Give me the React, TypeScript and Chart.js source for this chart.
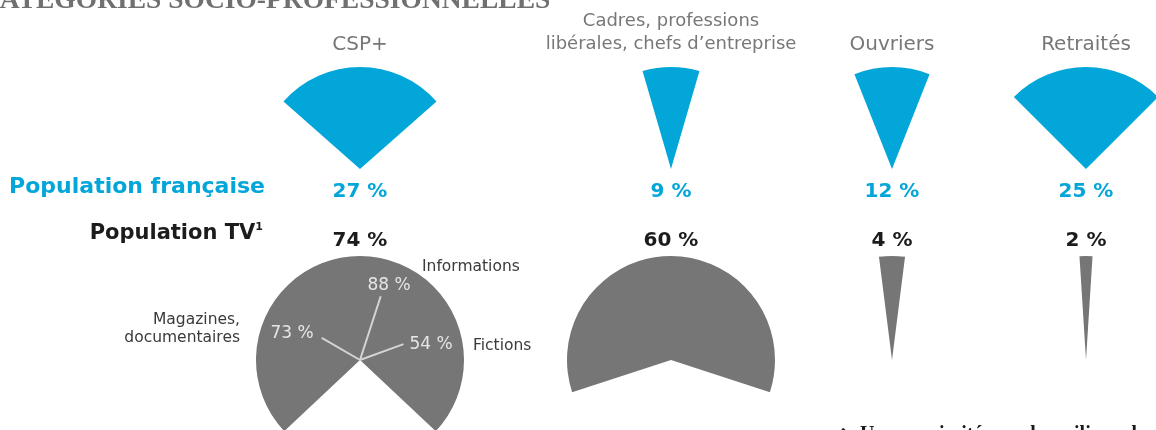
import React, { useEffect, useRef } from "react";
import { Chart, registerables } from "chart.js";

Chart.register(...registerables);

// ---- data ----
const categories = ["CSP+", "Cadres, professions|libérales, chefs d’entreprise", "Ouvriers", "Retraités"];
const populationFrancaise = [27, 9, 12, 25];
const populationTV = [74, 60, 4, 2];
const genreLabels = ["Informations", "Magazines,|documentaires", "Fictions"];
const genreValues = [88, 73, 54];
const rowLabels = ["Population française", "Population TV"];
const title = "CATÉGORIES SOCIO-PROFESSIONNELLES";
const footnote = "Une proximité avec les milieux d";

// ---- layout ----
const W = 1156;
const H = 430;
const colX = [360, 671, 892, 1086];
const blueCY = 169;
const blueR = 102;
const grayCY = 360;
const grayR = 104;
const BLUE = "#03a6d9";
const GRAY = "#767676";
const SANS = "'DejaVu Sans', sans-serif";

// leader lines inside the CSP+ TV wedge: angle (deg clockwise from up), length (fraction of radius)
const leaderAngles = [18, -60, 70];
const leaderLengths = [0.645, 0.425, 0.445];

const leaderPlugin = {
  id: "leaders",
  afterDatasetsDraw(chart: any) {
    const arc = chart.getDatasetMeta(0).data[0];
    if (!arc) return;
    const { x, y, outerRadius } = arc.getProps(["x", "y", "outerRadius"], true);
    const ctx = chart.ctx;
    ctx.save();
    ctx.strokeStyle = "#d4d4d4";
    ctx.lineWidth = 2;
    leaderAngles.forEach((a, i) => {
      const rad = (a * Math.PI) / 180;
      const len = leaderLengths[i] * outerRadius;
      ctx.beginPath();
      ctx.moveTo(x, y);
      ctx.lineTo(x + Math.sin(rad) * len, y - Math.cos(rad) * len);
      ctx.stroke();
    });
    ctx.restore();
  },
};

function makeWedge(canvas: HTMLCanvasElement, value: number, color: string, withLeaders: boolean) {
  return new Chart(canvas, {
    type: "pie",
    data: {
      labels: ["part", "reste"],
      datasets: [
        {
          data: [value, 100 - value],
          backgroundColor: [color, "rgba(0,0,0,0)"],
          borderWidth: 0,
          hoverOffset: 0,
        },
      ],
    },
    options: {
      responsive: false,
      animation: false,
      events: [],
      rotation: -value * 1.8,
      circumference: 360,
      layout: { padding: 0 },
      plugins: { legend: { display: false }, tooltip: { enabled: false } },
    },
    plugins: withLeaders ? [leaderPlugin] : [],
  });
}

export default function App() {
  const blueRefs = useRef<(HTMLCanvasElement | null)[]>([]);
  const grayRefs = useRef<(HTMLCanvasElement | null)[]>([]);

  useEffect(() => {
    const charts: Chart[] = [];
    populationFrancaise.forEach((v, i) => {
      const c = blueRefs.current[i];
      if (c) charts.push(makeWedge(c, v, BLUE, false));
    });
    populationTV.forEach((v, i) => {
      const c = grayRefs.current[i];
      if (c) charts.push(makeWedge(c, v, GRAY, i === 0));
    });
    return () => charts.forEach((c) => c.destroy());
  }, []);

  const canvasStyle = (cx: number, cy: number, r: number): React.CSSProperties => ({
    position: "absolute",
    left: cx - r,
    top: cy - r,
    width: 2 * r,
    height: 2 * r,
  });

  const catLines = categories.map((c) => c.split("|"));
  const genreLines = genreLabels.map((g) => g.split("|"));

  return (
    <div
      style={{
        position: "fixed",
        left: 0,
        top: 0,
        width: W,
        height: H,
        overflow: "hidden",
        background: "#ffffff",
      }}
    >
      {colX.map((x, i) => (
        <canvas
          key={"b" + i}
          ref={(el) => {
            blueRefs.current[i] = el;
          }}
          width={2 * blueR}
          height={2 * blueR}
          style={canvasStyle(x, blueCY, blueR)}
        />
      ))}
      {colX.map((x, i) => (
        <canvas
          key={"g" + i}
          ref={(el) => {
            grayRefs.current[i] = el;
          }}
          width={2 * grayR}
          height={2 * grayR}
          style={canvasStyle(x, grayCY, grayR)}
        />
      ))}
      <svg
        width={W}
        height={H}
        style={{ position: "absolute", left: 0, top: 0, pointerEvents: "none" }}
      >
        {/* cut-off title */}
        <text x={-20} y={8} fontFamily="'Liberation Serif', serif" fontWeight="bold" fontSize={27.5} fill="#707070">
          {title}
        </text>

        {/* category headers */}
        {catLines.map((lines, i) =>
          lines.length === 1 ? (
            <text key={"h" + i} x={colX[i]} y={50} textAnchor="middle" fontFamily={SANS} fontSize={20} fill="#777777">
              {lines[0]}
            </text>
          ) : (
            <text key={"h" + i} x={colX[i]} textAnchor="middle" fontFamily={SANS} fontSize={18} fill="#777777">
              <tspan x={colX[i]} y={26}>{lines[0]}</tspan>
              <tspan x={colX[i]} y={49}>{lines[1]}</tspan>
            </text>
          )
        )}

        {/* row labels */}
        <text x={265} y={193} textAnchor="end" fontFamily={SANS} fontWeight="bold" fontSize={22} fill={BLUE}>
          {rowLabels[0]}
        </text>
        <text x={263} y={239} textAnchor="end" fontFamily={SANS} fontWeight="bold" fontSize={21} fill="#1c1c1c">
          {rowLabels[1]}
          <tspan fontSize={11} dy={-9}>1</tspan>
        </text>

        {/* values */}
        {populationFrancaise.map((v, i) => (
          <text key={"pf" + i} x={colX[i]} y={197} textAnchor="middle" fontFamily={SANS} fontWeight="bold" fontSize={20} fill={BLUE}>
            {v} %
          </text>
        ))}
        {populationTV.map((v, i) => (
          <text key={"tv" + i} x={colX[i]} y={246} textAnchor="middle" fontFamily={SANS} fontWeight="bold" fontSize={20} fill="#1c1c1c">
            {v} %
          </text>
        ))}

        {/* genre values inside CSP+ wedge */}
        <text x={389} y={290} textAnchor="middle" fontFamily={SANS} fontSize={17} fill="#e6e6e6">
          {genreValues[0]} %
        </text>
        <text x={292} y={338} textAnchor="middle" fontFamily={SANS} fontSize={17} fill="#e6e6e6">
          {genreValues[1]} %
        </text>
        <text x={431} y={349} textAnchor="middle" fontFamily={SANS} fontSize={17} fill="#e6e6e6">
          {genreValues[2]} %
        </text>

        {/* genre labels */}
        <text x={422} y={271} fontFamily={SANS} fontSize={15.5} fill="#3a3a3a">
          {genreLines[0][0]}
        </text>
        <text textAnchor="end" fontFamily={SANS} fontSize={15.5} fill="#3a3a3a">
          <tspan x={240} y={324}>{genreLines[1][0]}</tspan>
          <tspan x={240} y={342}>{genreLines[1][1]}</tspan>
        </text>
        <text x={473} y={350} fontFamily={SANS} fontSize={15.5} fill="#3a3a3a">
          {genreLines[2][0]}
        </text>

        {/* cut-off footnote */}
        <text x={833} y={440} fontFamily="'Liberation Serif', serif" fontWeight="bold" fontSize={20} fill="#1a1a1a">
          ➜
        </text>
        <text x={860} y={440} fontFamily="'Liberation Serif', serif" fontWeight="bold" fontSize={20} fill="#1a1a1a">
          {footnote}
        </text>
      </svg>
    </div>
  );
}
